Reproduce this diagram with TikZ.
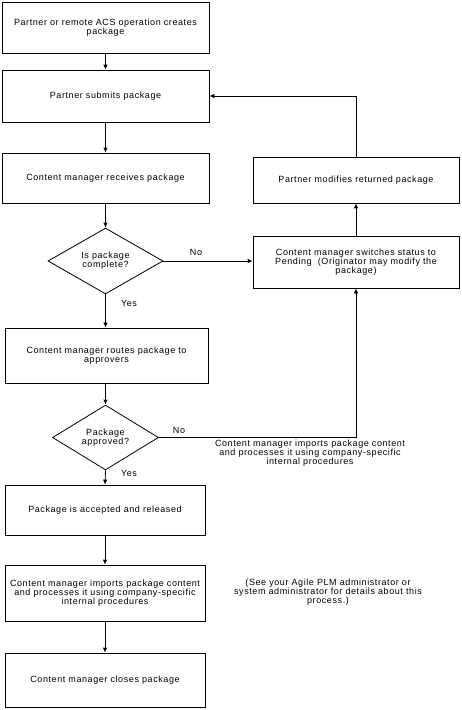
\documentclass[tikz,border=0pt]{standalone}
\usepackage{fontspec}
\setmainfont{Liberation Sans}[LetterSpace=6.5]
\usetikzlibrary{shapes.geometric,arrows.meta}
\begin{document}
\begin{tikzpicture}[x=1pt,y=-1pt,
  every node/.style={font=\fontsize{9}{9.3}\selectfont, inner sep=0pt},
  box/.style={draw, line width=0.8pt, align=center},
  dec/.style={draw, shape=diamond, line width=0.8pt, align=center},
  lbl/.style={align=center},
  arr/.style={line width=0.8pt, -{Latex[length=5pt,width=4.5pt]}},
  ln/.style={line width=0.8pt}]
\useasboundingbox (0,0) rectangle (461,710);
\node[box, minimum width=207pt, minimum height=51pt] (b1) at (105.5,27.5) {Partner or remote ACS operation creates\\package};
\node[box, minimum width=207pt, minimum height=52pt] (b2) at (105.5,96) {Partner submits package};
\node[box, minimum width=207pt, minimum height=50pt] (b3) at (105.5,178) {Content manager receives package};
\node[dec, minimum width=115pt, minimum height=64pt] (d1) at (105.5,261) {Is package\\complete?};
\node[box, minimum width=203pt, minimum height=55pt] (b4) at (106.5,355.5) {Content manager routes package to\\approvers};
\node[dec, minimum width=106pt, minimum height=59pt] (d2) at (105.5,437.5) {Package\\approved?};
\node[box, minimum width=200pt, minimum height=50pt] (b5) at (105,510) {Package is accepted and released};
\node[box, minimum width=200pt, minimum height=56pt] (b6) at (105,593) {Content manager imports package content\\and processes it using company-specific\\internal procedures};
\node[box, minimum width=200pt, minimum height=54pt] (b7) at (105,680) {Content manager closes package};
\node[box, minimum width=206pt, minimum height=46pt] (r1) at (356,180) {Partner modifies returned package};
\node[box, minimum width=206pt, minimum height=52pt] (r2) at (356,262) {Content manager switches status to\\Pending\ \ (Originator may modify the\\package)};
\node[lbl] (no1) at (196,252) {No};
\node[lbl] (yes1) at (129,303) {Yes};
\node[lbl] (no2) at (179,430) {No};
\node[lbl] (yes2) at (129,473) {Yes};
\node[lbl] (note1) at (310,453) {Content manager imports package content\\and processes it using company-specific\\internal procedures};
\node[lbl] (note2) at (328,592) {(See your Agile PLM administrator or\\system administrator for details about this\\process.)};
\coordinate (c2) at (356,437.5);
\draw[arr] (b1.south) -- (b2.north);
\draw[arr] (b2.south) -- (b3.north);
\draw[arr] (b3.south) -- (d1.north);
\draw[arr] (d1.south) -- (b4.north -| d1.south);
\draw[arr] (b4.south -| d2.north) -- (d2.north);
\draw[arr] (d2.south) -- (b5.north);
\draw[arr] (b5.south) -- (b6.north);
\draw[arr] (b6.south) -- (b7.north);
\draw[arr] (d1.east) -- (d1.east -| r2.west);
\draw[arr] (d2.east) -- (c2) -- (r2.south);
\draw[arr] (r2.north) -- (r1.south);
\draw[arr] (r1.north) |- (b2.east);
\end{tikzpicture}
\end{document}
